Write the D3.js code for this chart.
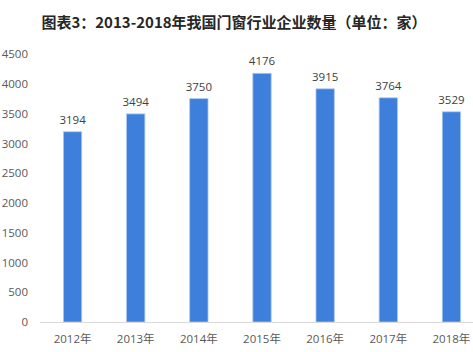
<!DOCTYPE html>
<html>
<head>
<meta charset="utf-8">
<script src="https://cdn.jsdelivr.net/npm/d3@7"></script>
<style>
  body { margin: 0; background: #fff; }
  text { font-family: "Open Sans", "Noto Sans CJK SC", sans-serif; }
</style>
</head>
<body>
<div id="chart"></div>
<script>
const years = ["2012年", "2013年", "2014年", "2015年", "2016年", "2017年", "2018年"];
const counts = [3194, 3494, 3750, 4176, 3915, 3764, 3529];
const yTicks = [0, 500, 1000, 1500, 2000, 2500, 3000, 3500, 4000, 4500];

const width = 473;
const height = 352;

const svg = d3.select("#chart")
  .append("svg")
  .attr("width", width)
  .attr("height", height);

// Title
svg.append("text")
  .attr("x", 234)
  .attr("y", 28)
  .attr("text-anchor", "middle")
  .attr("font-size", 15)
  .attr("font-weight", "bold")
  .attr("fill", "#262626")
  .style("font-family", "'Noto Sans CJK SC', sans-serif")
  .text("图表3：2013-2018年我国门窗行业企业数量（单位：家）");

const x = d3.scaleBand()
  .domain(years)
  .range([41, 483])
  .paddingInner(0.71)
  .paddingOuter(0.355);

const y = d3.scaleLinear()
  .domain([0, 4500])
  .range([322, 54]);

// Y tick labels (no axis line)
const yAxis = svg.append("g")
  .attr("transform", "translate(28,0)")
  .call(d3.axisLeft(y).tickValues(yTicks).tickFormat(d3.format("d")).tickSize(0).tickPadding(0));
yAxis.select(".domain").remove();
yAxis.selectAll("text")
  .attr("font-size", 11.5)
  .attr("fill", "#595959")
  .style("font-family", "'Open Sans', sans-serif");

// Bars
svg.selectAll(".bar")
  .data(counts)
  .join("rect")
  .attr("class", "bar")
  .attr("x", (d, i) => x(years[i]))
  .attr("y", d => y(d))
  .attr("width", x.bandwidth())
  .attr("height", d => y(0) - y(d))
  .attr("fill", "#3d7fdb")
  .attr("stroke", "#a9c8ef")
  .attr("stroke-width", 0.8);

// Value labels
svg.selectAll(".value")
  .data(counts)
  .join("text")
  .attr("class", "value")
  .attr("x", (d, i) => x(years[i]) + x.bandwidth() / 2)
  .attr("y", d => y(d) - 8)
  .attr("text-anchor", "middle")
  .attr("font-size", 11.5)
  .attr("fill", "#404040")
  .text(d => d);

// X axis
const xAxis = svg.append("g")
  .attr("transform", `translate(0,${y(0)})`)
  .call(d3.axisBottom(x).tickSize(0).tickPadding(13));
xAxis.select(".domain")
  .attr("d", "M40,0.5H473")
  .attr("stroke", "#d9d9d9");
xAxis.selectAll("text")
  .attr("font-size", 11.5)
  .attr("fill", "#595959");
</script>
</body>
</html>
